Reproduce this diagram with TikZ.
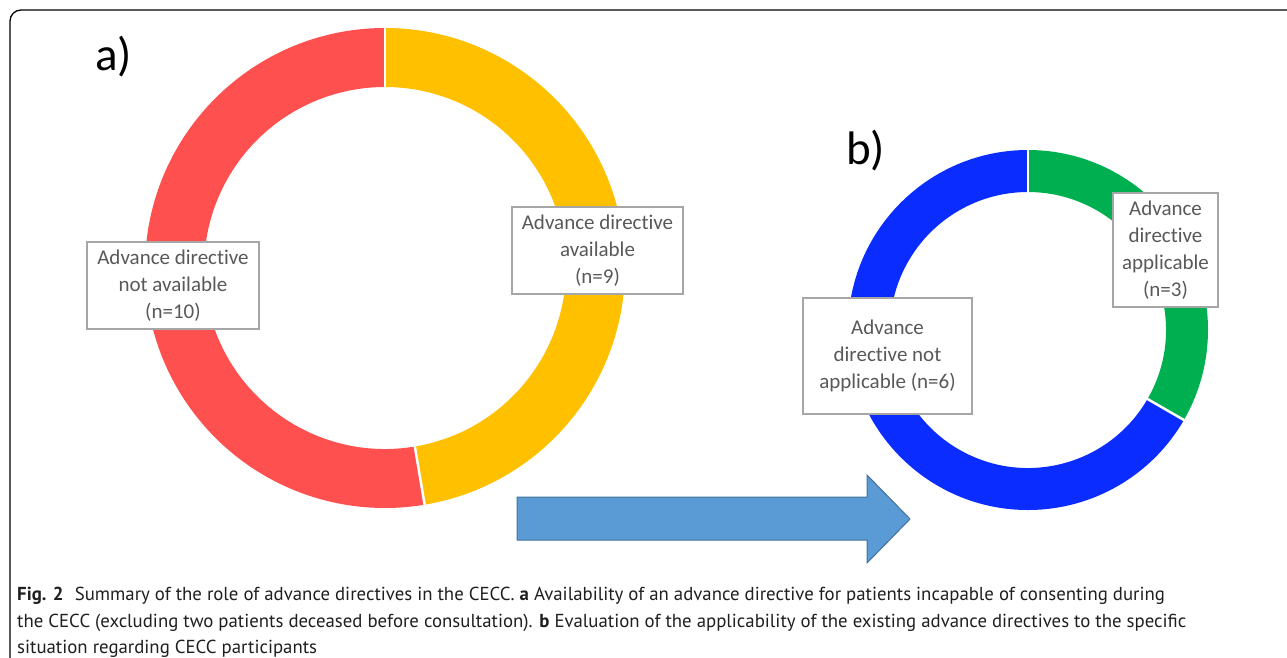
\documentclass[tikz,border=0pt]{standalone}
\usepackage{fontspec}
\setmainfont{Carlito}[Ligatures=NoCommon]
\newfontfamily\capfont{PT Sans}
\definecolor{ringred}{HTML}{FF5050}
\definecolor{ringyellow}{HTML}{FFC000}
\definecolor{ringblue}{HTML}{0A2CFF}
\definecolor{ringgreen}{HTML}{00B050}
\definecolor{arrowfill}{HTML}{5B9BD5}
\definecolor{arrowdraw}{HTML}{41719C}
\definecolor{labelgray}{HTML}{595959}
\definecolor{boxgray}{HTML}{A6A6A6}
\begin{document}
\begin{tikzpicture}[x=1pt,y=1pt,
  lbox/.style={draw=boxgray,line width=1.4pt,fill=white,inner sep=0pt,
    text=labelgray,align=center,font=\fontsize{21}{27}\selectfont},
  panel/.style={anchor=base west,inner sep=0pt,font=\fontsize{47}{50}\selectfont},
  capline/.style={anchor=base west,inner sep=0pt,font=\capfont\fontsize{18.8}{22}\selectfont,text=black!88},
  divider/.style={white,line width=2.5pt}]
\useasboundingbox (0,0) rectangle (1287,-657);
% frame
\draw[line width=1.3pt,rounded corners=11pt] (10,-660) -- (10,-10) -- (1290,-10);
% ring a
\coordinate (ca) at (385,-268);
\fill[ringyellow] ([shift={(90:240)}]ca) arc[start angle=90,end angle=-80.5,radius=240]
  -- ([shift={(-80.5:181)}]ca) arc[start angle=-80.5,end angle=90,radius=181] -- cycle;
\fill[ringred] ([shift={(90:240)}]ca) arc[start angle=90,end angle=279.5,radius=240]
  -- ([shift={(279.5:181)}]ca) arc[start angle=279.5,end angle=90,radius=181] -- cycle;
\draw[divider] ([shift={(90:178)}]ca) -- ([shift={(90:243)}]ca);
\draw[divider] ([shift={(-80.5:178)}]ca) -- ([shift={(-80.5:243)}]ca);
% ring b
\coordinate (cb) at (1028,-330);
\fill[ringgreen] ([shift={(90:180)}]cb) arc[start angle=90,end angle=-30,radius=180]
  -- ([shift={(-30:138)}]cb) arc[start angle=-30,end angle=90,radius=138] -- cycle;
\fill[ringblue] ([shift={(90:180)}]cb) arc[start angle=90,end angle=330,radius=180]
  -- ([shift={(330:138)}]cb) arc[start angle=330,end angle=90,radius=138] -- cycle;
\draw[divider] ([shift={(90:135)}]cb) -- ([shift={(90:183)}]cb);
\draw[divider] ([shift={(-30:135)}]cb) -- ([shift={(-30:183)}]cb);
% panel labels
\node[panel] (pa) at (95,-70) {a)};
\node[panel] (pb) at (846,-164) {b)};
% label boxes
\node[lbox,minimum width=172pt,minimum height=87pt] (la) at (173,-285.5)
  {\rule{0pt}{3pt}Advance directive\\not available\\(n=10)};
\node[lbox,minimum width=171pt,minimum height=87pt] (lb) at (597.5,-250.5)
  {\rule{0pt}{3pt}Advance directive\\available\\(n=9)};
\node[lbox,minimum width=169pt,minimum height=116pt] (lc) at (887.5,-356)
  {Advance\\directive not\\applicable (n=6)};
\node[lbox,minimum width=105pt,minimum height=114pt] (ld) at (1165.5,-250)
  {Advance\\directive\\applicable\\(n=3)};
% arrow
\draw[fill=arrowfill,draw=arrowdraw,line width=1pt]
  (517,-497) -- (867,-497) -- (867,-475) -- (910,-519) -- (867,-563) -- (867,-540) -- (517,-540) -- cycle;
% caption
\node[capline] (c1) at (17,-600) {\textbf{Fig. 2}\hspace{0.6em}Summary of the role of advance directives in the CECC. \textbf{a} Availability of an advance directive for patients incapable of consenting during};
\node[capline] (c2) at (17,-627) {the CECC (excluding two patients deceased before consultation). \textbf{b} Evaluation of the applicability of the existing advance directives to the specific};
\node[capline] (c3) at (17,-653) {situation regarding CECC participants};
\end{tikzpicture}
\end{document}
